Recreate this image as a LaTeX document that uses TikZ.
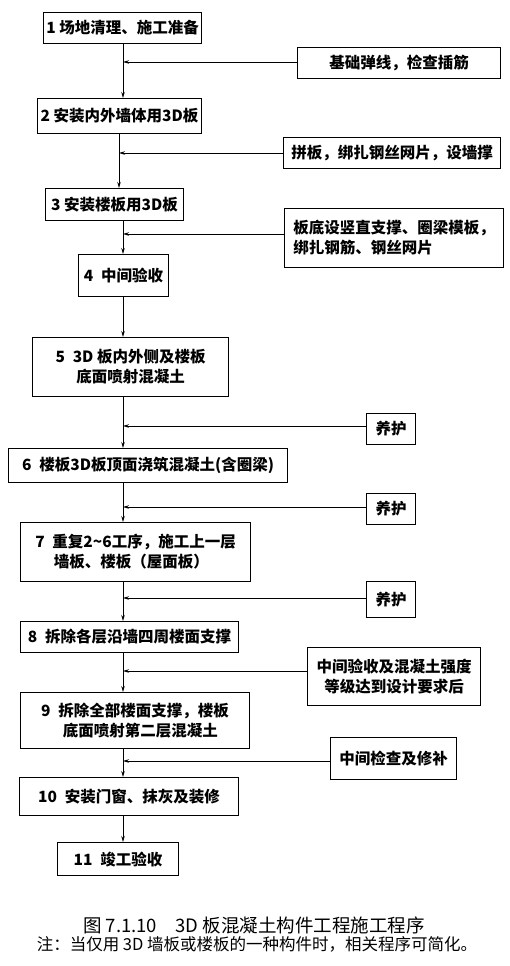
\documentclass[tikz,border=0pt]{standalone}
\usepackage{fontspec}
\setmainfont{Noto Sans CJK SC}
\usetikzlibrary{arrows.meta}
\begin{document}
\begin{tikzpicture}[x=1pt,y=-1pt,
  box/.style={draw, line width=1.1pt, anchor=north west, inner sep=2pt,
    font=\fontsize{15.5}{20}\selectfont\bfseries},
  bx/.style 2 args={minimum width=#1, minimum height=#2},
  flow/.style={line width=0.8pt, -{Stealth[length=6pt,width=3.5pt]}},
]
\useasboundingbox (0,0) rectangle (509,966);
\fill[white] (0,0) rectangle (509,966);
\coordinate (m) at (123,0);
\coordinate (m2) at (119,0);
% main boxes
\node[box, bx={158}{31}] (b1) at (43,12) {1 场地清理、施工准备};
\node[box, bx={164}{35}] (b2) at (37,98) {2 安装内外墙体用3D板};
\node[box, bx={138}{32}] (b3) at (45,188) {3 安装楼板用3D板};
\node[box, bx={90}{42}] (b4) at (78,254) {4\enspace 中间验收};
\node[box, bx={196}{59}, align=center] (b5) at (32,337) {5\enspace 3D 板内外侧及楼板\\底面喷射混凝土};
\node[box, bx={279}{34}] (b6) at (8,448) {6\enspace 楼板3D板顶面浇筑混凝土(含圈梁)};
\node[box, bx={230}{59}, align=left] (b7) at (20,522) {7\enspace 重复2\textasciitilde 6工序，施工上一层\\\hspace*{1.2em}墙板、楼板（屋面板）};
\node[box, bx={218}{31}] (b8) at (20,621) {8\enspace 拆除各层沿墙四周楼面支撑};
\node[box, bx={229}{56}, align=left] (b9) at (20,692) {9\enspace 拆除全部楼面支撑，楼板\\\hspace*{1.4em}底面喷射第二层混凝土};
\node[box, bx={219}{38}] (b10) at (19,777) {10\enspace 安装门窗、抹灰及装修};
\node[box, bx={121}{33}] (b11) at (57,842) {11\enspace 竣工验收};
% side boxes
\node[box, bx={203}{31}] (sA) at (297,47) {基础弹线，检查插筋};
\node[box, bx={217}{31}] (sB) at (283,137) {拼板，绑扎钢丝网片，设墙撑};
\node[box, bx={219}{59}, align=left] (sC) at (284,208) {板底设竖直支撑、圈梁模板，\\绑扎钢筋、钢丝网片};
\node[box, bx={49}{31}] (sD) at (366,413) {养护};
\node[box, bx={49}{31}] (sE) at (366,493) {养护};
\node[box, bx={49}{36}] (sF) at (366,581) {养护};
\node[box, bx={173}{58}, align=center] (sG) at (307,647) {中间验收及混凝土强度\\等级达到设计要求后};
\node[box, bx={126}{42}] (sH) at (330,737) {中间检查及修补};
% junctions on main line
\coordinate (jA) at (123,62);
\coordinate (jB) at (119,153);
\coordinate (jC) at (123,234);
\coordinate (jD) at (123,426);
\coordinate (jE) at (123,507);
\coordinate (jF) at (123,598);
\coordinate (jG) at (123,671);
\coordinate (jH) at (123,761);
% main flow
\draw[flow] (b1.south -| m) -- (b2.north -| m);
\draw[flow] (b2.south -| m2) -- (b3.north -| m2);
\draw[flow] (b3.south -| m) -- (b4.north -| m);
\draw[flow] (b4.south -| m) -- (b5.north -| m);
\draw[flow] (b5.south -| m) -- (b6.north -| m);
\draw[flow] (b6.south -| m) -- (b7.north -| m);
\draw[flow] (b7.south -| m) -- (b8.north -| m);
\draw[flow] (b8.south -| m) -- (b9.north -| m);
\draw[flow] (b9.south -| m) -- (b10.north -| m);
\draw[flow] (b10.south -| m) -- (b11.north -| m);
% side flows
\draw[flow] (sA.west |- jA) -- (jA);
\draw[flow] (sB.west |- jB) -- (jB);
\draw[flow] (sC.west |- jC) -- (jC);
\draw[flow] (sD.west |- jD) -- (jD);
\draw[flow] (sE.west |- jE) -- (jE);
\draw[flow] (sF.west |- jF) -- (jF);
\draw[flow] (sG.west |- jG) -- (jG);
\draw[flow] (sH.west |- jH) -- (jH);
% caption
\node[font=\fontsize{18.5}{22}\selectfont] (cap) at (254,925) {图 7.1.10\quad 3D 板混凝土构件工程施工程序};
\node[font=\fontsize{16.5}{19}\selectfont] (note) at (257,944) {注：当仅用 3D 墙板或楼板的一种构件时，相关程序可简化。};
\end{tikzpicture}
\end{document}
